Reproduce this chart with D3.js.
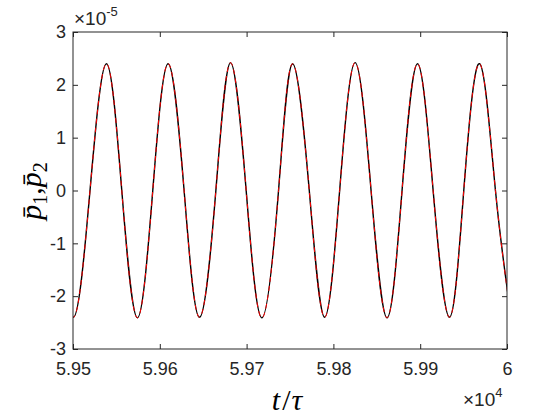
<!DOCTYPE html>
<html>
<head>
<meta charset="utf-8">
<script src="https://cdn.jsdelivr.net/npm/d3@7"></script>
<style>
  body { margin: 0; background: #fff; }
  svg { display: block; }
</style>
</head>
<body>
<svg width="560" height="420"></svg>
<script>
// time (t/tau) at the extrema and zero crossings
// (first and last points lie just outside the axes and are clipped)
var tVals = [59482.5, 59500.5, 59519.6, 59538.5, 59556.2, 59574.2, 59591.9, 59609.6, 59628.0,
             59645.7, 59664.6, 59681.5, 59699.5, 59717.6, 59736.8, 59753.0, 59772.2,
             59789.9, 59807.2, 59825.0, 59843.4, 59861.8, 59879.1, 59896.9, 59914.9,
             59933.7, 59950.2, 59968.4, 59986.7, 60004.8];
// p1 and p2 in units of 1e-5
var p1Vals = [0, -2.40, 0, 2.40, 0, -2.41, 0, 2.40, 0,
              -2.40, 0, 2.42, 0, -2.41, 0, 2.40, 0,
              -2.40, 0, 2.42, 0, -2.41, 0, 2.40, 0,
              -2.40, 0, 2.40, 0, -2.40];
var p2Vals = [0, -2.40, 0, 2.40, 0, -2.41, 0, 2.40, 0,
              -2.40, 0, 2.42, 0, -2.41, 0, 2.40, 0,
              -2.40, 0, 2.42, 0, -2.41, 0, 2.40, 0,
              -2.40, 0, 2.40, 0, -2.40];

var xTicks = [59500, 59600, 59700, 59800, 59900, 60000];
var xTickLabels = ["5.95", "5.96", "5.97", "5.98", "5.99", "6"];
var yTicks = [-3, -2, -1, 0, 1, 2, 3];
var yTickLabels = ["-3", "-2", "-1", "0", "1", "2", "3"];

var svg = d3.select("svg");
var marg = {left: 73, top: 32, right: 507, bottom: 349};
var axisColor = "#262626";
var numFont = "'Liberation Sans', Arial, sans-serif";
var texFont = "'Liberation Serif', 'DejaVu Serif', serif";

svg.append("rect").attr("width", 560).attr("height", 420).attr("fill", "#fff");

var x = d3.scaleLinear().domain([59500, 60000]).range([marg.left, marg.right]);
var y = d3.scaleLinear().domain([-3, 3]).range([marg.bottom, marg.top]);

svg.append("clipPath").attr("id", "plotclip")
  .append("rect")
  .attr("x", marg.left).attr("y", marg.top)
  .attr("width", marg.right - marg.left).attr("height", marg.bottom - marg.top);

// curves: black solid, red dashed on top
var line = d3.line().curve(d3.curveNatural);
var pts1 = tVals.map(function(t, i) { return [x(t), y(p1Vals[i])]; });
var pts2 = tVals.map(function(t, i) { return [x(t), y(p2Vals[i])]; });

var plot = svg.append("g").attr("clip-path", "url(#plotclip)");
plot.append("path").attr("d", line(pts1))
  .attr("fill", "none").attr("stroke", "#000").attr("stroke-width", 1.4);
plot.append("path").attr("d", line(pts2))
  .attr("fill", "none").attr("stroke", "#ff0000").attr("stroke-width", 1)
  .attr("stroke-dasharray", "5,4");

// axes (ticks pointing in, like matlab)
function styleAxis(g) {
  g.select(".domain").remove();
  g.selectAll("line").attr("stroke", axisColor);
  g.selectAll("text").attr("fill", axisColor)
    .style("font-family", numFont).style("font-size", "18px");
}
svg.append("g").attr("transform", "translate(0," + marg.bottom + ")")
  .call(d3.axisBottom(x).tickValues(xTicks)
    .tickFormat(function(d, i) { return xTickLabels[i]; })
    .tickSizeInner(-5).tickSizeOuter(0).tickPadding(13))
  .call(styleAxis);
svg.append("g").attr("transform", "translate(0," + marg.top + ")")
  .call(d3.axisTop(x).tickValues(xTicks).tickFormat("")
    .tickSizeInner(-5).tickSizeOuter(0))
  .call(styleAxis);
svg.append("g").attr("transform", "translate(" + marg.left + ",0)")
  .call(d3.axisLeft(y).tickValues(yTicks)
    .tickFormat(function(d, i) { return yTickLabels[i]; })
    .tickSizeInner(-5).tickSizeOuter(0).tickPadding(7))
  .call(styleAxis);
svg.append("g").attr("transform", "translate(" + marg.right + ",0)")
  .call(d3.axisRight(y).tickValues(yTicks).tickFormat("")
    .tickSizeInner(-5).tickSizeOuter(0))
  .call(styleAxis);

svg.append("rect")
  .attr("x", marg.left).attr("y", marg.top)
  .attr("width", marg.right - marg.left).attr("height", marg.bottom - marg.top)
  .attr("fill", "none").attr("stroke", axisColor).attr("stroke-width", 1);

// exponent labels
var ey = svg.append("text").attr("x", 74).attr("y", 25)
  .attr("fill", axisColor).style("font-family", numFont).style("font-size", "19px");
ey.append("tspan").text("\u00d710");
ey.append("tspan").attr("dy", -9).style("font-size", "13px").text("-5");

var ex = svg.append("text").attr("x", 463).attr("y", 406)
  .attr("fill", axisColor).style("font-family", numFont).style("font-size", "19px");
ex.append("tspan").text("\u00d710");
ex.append("tspan").attr("dy", -9).style("font-size", "13px").text("4");

// axis titles
var xl = svg.append("text").attr("x", 287).attr("y", 410)
  .attr("text-anchor", "middle").attr("fill", "#000")
  .style("font-family", texFont).style("font-size", "30px").style("font-style", "italic");
xl.append("tspan").text("t");
xl.append("tspan").attr("dx", 2).style("font-style", "normal").text("/");
xl.append("tspan").attr("dx", 1).text("\u03c4");

var yl = svg.append("text")
  .attr("transform", "translate(41,191) rotate(-90)")
  .attr("text-anchor", "middle").attr("fill", "#000")
  .style("font-family", texFont).style("font-size", "30px");
yl.append("tspan").style("font-style", "italic").text("p\u0304");
yl.append("tspan").attr("dy", 6).style("font-size", "20px").text("1");
yl.append("tspan").attr("dy", -6).text(",");
yl.append("tspan").style("font-style", "italic").text("p\u0304");
yl.append("tspan").attr("dy", 6).style("font-size", "20px").text("2");
</script>
</body>
</html>
